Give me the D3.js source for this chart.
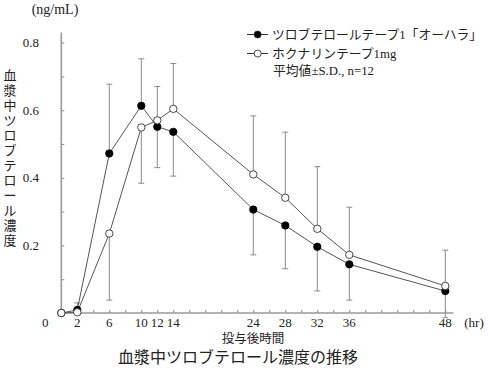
<!DOCTYPE html>
<html><head><meta charset="utf-8">
<script src="https://cdn.jsdelivr.net/npm/d3@7/dist/d3.min.js"></script>
<style>
body{margin:0;background:#fff;}
text{font-family:"Liberation Serif","Noto Sans CJK JP",serif;fill:#222;}
</style></head><body>
<svg id="c" width="489" height="392"></svg>
<script>
const times = [0, 2, 6, 10, 12, 14, 24, 28, 32, 36, 48];
const tickLabels = [0, 2, 6, 10, 12, 14, 24, 28, 32, 36, 48];
const yTickLabels = [0.2, 0.4, 0.6, 0.8];
const tulobuterol = [0, 0.009, 0.472, 0.613, 0.551, 0.536, 0.306, 0.259, 0.196, 0.144, 0.065];
const tulobuterolSD = [0, 0.021, 0.205, 0.139, 0.121, 0.131, 0.134, 0.128, 0.131, 0.106, 0.079];
const hokunalin = [0, 0.002, 0.235, 0.549, 0.570, 0.604, 0.410, 0.341, 0.249, 0.172, 0.080];
const hokunalinSD = [0, 0, 0.197, 0.165, 0.100, 0.134, 0.173, 0.194, 0.184, 0.141, 0.106];
const seriesNames = ["ツロブテロールテープ1「オーハラ」", "ホクナリンテープ1mg"];
const note = "平均値±S.D.,  n=12";
const yTitle = "血漿中ツロブテロール濃度";
const xTitle = "投与後時間";
const chartTitle = "血漿中ツロブテロール濃度の推移";

const svg = d3.select("#c");
const x = d3.scaleLinear().domain([0, 48]).range([61.3, 445.3]);
const y = d3.scaleLinear().domain([0, 0.8]).range([313, 42.6]);

const axisColor = "#9a9a9a";
const g = svg.append("g");

// error bars (higher series gets upward bar, lower series downward)
const bars = [];
times.forEach((t, i) => {
  const a = tulobuterol[i], b = hokunalin[i];
  const aUp = a >= b;
  if (tulobuterolSD[i] > 0) bars.push({t, v: a, e: aUp ? a + tulobuterolSD[i] : a - tulobuterolSD[i]});
  if (hokunalinSD[i] > 0) bars.push({t, v: b, e: aUp ? b - hokunalinSD[i] : b + hokunalinSD[i]});
});
const eb = g.append("g").attr("stroke", "#8a8a8a").attr("stroke-width", 1).attr("fill", "none");
bars.forEach(d => {
  eb.append("line").attr("x1", x(d.t)).attr("x2", x(d.t)).attr("y1", y(d.v)).attr("y2", y(d.e));
  eb.append("line").attr("x1", x(d.t) - 3).attr("x2", x(d.t) + 3).attr("y1", y(d.e)).attr("y2", y(d.e));
});

// axes
const yAxis = d3.axisRight(y).tickValues(d3.range(1, 9).map(v => v / 10)).tickSize(3).tickFormat("");
const ya = g.append("g").attr("transform", `translate(${x(0)},0)`).call(yAxis);
ya.select(".domain").remove();
ya.selectAll("line").attr("stroke", axisColor).attr("stroke-width", 1.2);
g.append("line").attr("x1", x(0)).attr("x2", x(0)).attr("y1", y(0)).attr("y2", y(0.83))
  .attr("stroke", axisColor).attr("stroke-width", 1.6);

const xAxis = d3.axisTop(x).tickValues(d3.range(2, 49, 2)).tickSize(3).tickFormat("");
const xa = g.append("g").attr("transform", `translate(0,${y(0)})`).call(xAxis);
xa.select(".domain").remove();
xa.selectAll("line").attr("stroke", axisColor).attr("stroke-width", 1.2);
g.append("line").attr("x1", x(0)).attr("x2", x(49)).attr("y1", y(0)).attr("y2", y(0))
  .attr("stroke", axisColor).attr("stroke-width", 1.6);

// tick labels
g.selectAll(".yl").data(yTickLabels).enter().append("text")
  .attr("x", 39).attr("y", d => y(d) + 4.5).attr("text-anchor", "end")
  .attr("font-size", 13).text(d => d.toFixed(1));
g.selectAll(".xl").data(tickLabels).enter().append("text")
  .attr("x", d => d === 0 ? x(0) - 16 : x(d)).attr("y", 327).attr("text-anchor", "middle")
  .attr("font-size", 13).text(d => d);
svg.append("text").attr("x", 474).attr("y", 327).attr("text-anchor", "middle").attr("font-size", 13).text("(hr)");
svg.append("text").attr("x", 55).attr("y", 14).attr("text-anchor", "middle").attr("font-size", 14).text("(ng/mL)");

// titles
Array.from(yTitle).forEach((ch, i) => {
  svg.append("text").attr("x", 10).attr("y", 80 + i * 15).attr("text-anchor", "middle")
    .attr("font-size", 13).text(ch);
});
svg.append("text").attr("x", 253).attr("y", 343).attr("text-anchor", "middle").attr("font-size", 12.5).text(xTitle);
svg.append("text").attr("x", 238).attr("y", 363).attr("text-anchor", "middle").attr("font-size", 16).text(chartTitle);

// lines
const line = d3.line().x((d, i) => x(times[i])).y(d => y(d));
g.append("path").datum(tulobuterol).attr("d", line).attr("fill", "none").attr("stroke", "#555").attr("stroke-width", 1);
g.append("path").datum(hokunalin).attr("d", line).attr("fill", "none").attr("stroke", "#555").attr("stroke-width", 1);

// markers
g.selectAll(".b").data(tulobuterol).enter().append("circle")
  .attr("cx", (d, i) => x(times[i])).attr("cy", d => y(d)).attr("r", 3.7)
  .attr("fill", "#000").attr("stroke", "#000").attr("stroke-width", 0.8);
g.selectAll(".o").data(hokunalin).enter().append("circle")
  .attr("cx", (d, i) => x(times[i])).attr("cy", d => y(d)).attr("r", 3.7)
  .attr("fill", "#fff").attr("stroke", "#333").attr("stroke-width", 0.9);

// legend
const lg = svg.append("g");
[0, 1].forEach(k => {
  const ly = 34.5 + k * 19;
  lg.append("line").attr("x1", 247).attr("x2", 268).attr("y1", ly).attr("y2", ly).attr("stroke", "#333").attr("stroke-width", 1);
  lg.append("circle").attr("cx", 257.7).attr("cy", ly).attr("r", 3.5)
    .attr("fill", k === 0 ? "#000" : "#fff").attr("stroke", "#333").attr("stroke-width", 0.9);
  lg.append("text").attr("x", 272).attr("y", ly + 4.5).attr("font-size", 12.8).text(seriesNames[k]);
});
lg.append("text").attr("x", 273).attr("y", 75).attr("font-size", 12.8).text(note);
</script></body></html>
